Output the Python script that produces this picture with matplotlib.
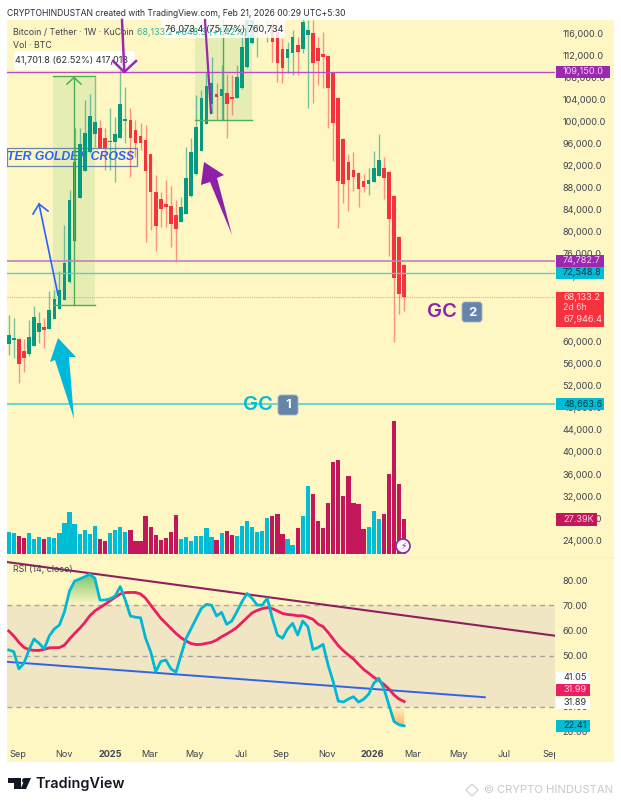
import matplotlib
matplotlib.use("Agg")
import matplotlib.pyplot as plt
import numpy as np
from matplotlib.patches import Circle, FancyBboxPatch, Polygon, Rectangle
from matplotlib.transforms import Bbox, IdentityTransform, TransformedBbox

plt.rcParams["font.family"] = ["Inter", "DejaVu Sans"]

# weekly candles, BTC/USDT
opens = [59643, 60425, 60606, 58370, 57825, 59279, 61824, 62733, 62369, 64188,
         66006, 67642, 70914, 78368, 86186, 91094, 94548, 97821, 98912, 97093,
         96275, 96366, 97093, 100184, 100366, 98548, 97457, 96730, 94185, 87276,
         86004, 85095, 84731, 83095, 81822, 83277, 86549, 90549, 94730, 99639,
         103275, 105093, 104729, 105275, 104547, 104366, 106184, 110001, 114365, 119300,
         119000, 118800, 117819, 116364, 113274, 111638, 112547, 114001, 113274, 115819,
         116183, 113456, 112365, 112001, 108911, 104366, 96912, 92730, 91276, 90731,
         89276, 88731, 89094, 90185, 91640, 90913, 86549, 79097, 73955]
highs = [64915, 64369, 60734, 60552, 64006, 66551, 65460, 64369, 69278, 69460,
         72914, 81277, 87640, 98912, 98912, 104002, 105093, 108183, 100366, 98912,
         102548, 100911, 109456, 106365, 102548, 100366, 99821, 99457, 94094, 90367,
         87276, 89458, 88367, 85822, 86367, 95457, 97093, 104911, 105820, 109092,
         111819, 107093, 110365, 108729, 108547, 110365, 116183, 122000, 123000, 123200,
         122000, 123000, 119800, 118546, 115274, 114546, 116728, 115455, 118728, 118546,
         118546, 115455, 116364, 112183, 109092, 104456, 97003, 94185, 94548, 90821,
         90549, 91640, 94730, 97821, 93639, 91003, 86640, 79188, 74100]
lows = [57643, 57098, 52553, 54552, 57461, 59188, 59825, 58916, 62278, 64097,
        65915, 67551, 70800, 78300, 86100, 91000, 94450, 95457, 95185, 91276,
        91276, 89094, 97003, 96185, 90003, 93639, 94912, 78186, 80368, 76550,
        80913, 80913, 77277, 74550, 81732, 83186, 86450, 90450, 94640, 99550,
        101638, 100366, 100366, 97003, 101275, 104275, 106090, 109900, 114270, 111900,
        118700, 114546, 110910, 107274, 107093, 108911, 108547, 108547, 112547, 102548,
        103457, 106729, 106184, 98912, 92912, 80732, 85277, 83822, 87458, 84549,
        87276, 86731, 89004, 90095, 86004, 75641, 60006, 65097, 65642]
closes = [61279, 60643, 56007, 57098, 60970, 64551, 63461, 62188, 65824, 67824,
          69460, 74369, 85822, 92730, 96003, 98003, 101093, 100002, 95276, 95276,
          96548, 97821, 103275, 100548, 97093, 96185, 96185, 91094, 87276, 81095,
          84186, 84549, 81459, 80550, 84549, 89822, 94548, 99093, 104366, 106547,
          107093, 104547, 106002, 103275, 104184, 108183, 113637, 118700, 119455, 121000,
          120000, 122000, 114546, 110729, 109820, 113274, 115455, 112728, 118182, 116728,
          110729, 111092, 111819, 106184, 99821, 89276, 88731, 89458, 90003, 87822,
          88185, 89458, 91640, 93094, 89822, 82368, 71642, 68733, 68133]
volumes = [17.7, 16.4, 14.6, 13.1, 16.4, 12.3, 13.6, 12.3, 13.8, 12.8,
           17.0, 24.8, 32.9, 23.5, 15.9, 19.1, 16.2, 22.4, 12.0, 10.4,
           16.7, 19.3, 21.4, 17.7, 19.1, 10.4, 10.7, 29.8, 21.4, 15.4,
           11.5, 12.5, 17.5, 30.8, 11.7, 13.3, 10.7, 14.4, 14.1, 20.6,
           13.3, 11.0, 16.4, 18.0, 15.1, 14.1, 22.4, 26.4, 21.4, 17.5,
           18.5, 28.4, 30.0, 31.6, 15.7, 11.7, 7.6, 20.4, 30.0, 53.5,
           47.2, 26.4, 20.4, 39.9, 72.0, 74.1, 45.7, 61.1, 39.9, 39.2,
           19.8, 21.1, 33.9, 27.4, 31.6, 62.6, 104.4, 55.1, 27.39]
rsi = [52.4, 51.7, 44.9, 47.1, 52.4, 56.7, 55.0, 52.8, 57.9, 60.7,
       62.2, 67.5, 75.7, 79.6, 80.4, 81.3, 82.4, 80.7, 72.1, 72.1,
       72.6, 73.7, 77.4, 72.1, 65.8, 65.3, 65.1, 57.0, 51.7, 43.8,
       47.8, 48.4, 44.9, 43.6, 50.4, 57.0, 60.9, 64.9, 68.8, 70.4,
       70.1, 65.8, 67.2, 62.5, 63.8, 67.5, 71.4, 74.7, 72.8, 70.1,
       70.1, 72.8, 64.9, 58.3, 57.0, 60.7, 62.9, 58.3, 63.8, 61.6,
       52.6, 53.3, 54.6, 46.4, 39.9, 32.2, 31.8, 33.0, 33.9, 31.8,
       32.9, 34.9, 39.2, 41.2, 37.2, 30.6, 24.1, 22.8, 22.41]
rsi_ma = [59.9, 57.9, 55.4, 53.4, 52.5, 52.2, 52.2, 52.6, 53.2, 53.3,
          53.3, 54.3, 56.7, 58.9, 60.9, 63.2, 65.9, 67.8, 69.1, 70.4,
          71.8, 73.2, 74.5, 75.0, 75.1, 75.1, 74.5, 72.8, 70.1, 67.5,
          64.9, 62.9, 60.9, 58.9, 57.2, 55.9, 54.9, 54.5, 54.6, 55.0,
          55.4, 56.3, 57.6, 58.7, 59.9, 61.3, 63.2, 65.1, 67.0, 68.0,
          68.7, 69.1, 68.7, 67.8, 66.8, 66.4, 66.2, 65.9, 65.9, 65.3,
          64.5, 62.6, 61.6, 59.3, 56.7, 54.1, 52.1, 50.4, 48.8, 46.7,
          44.7, 43.2, 41.6, 40.3, 38.8, 37.0, 34.6, 33.0, 31.99]

date_ticks = [1.83, 10.9, 20.0, 27.9, 36.7, 45.8, 53.7, 62.8, 71.8, 79.7, 88.8, 97.7, 107.0]
date_labels = ["Sep", "Nov", "2025", "Mar", "May", "Jul", "Sep", "Nov", "2026", "Mar", "May", "Jul", "Sep"]
price_ticks = list(range(24000, 116001, 4000))
rsi_ticks = [20, 30, 40, 50, 60, 70, 80]

# drawn levels and measure boxes
purple_top = 109150.0
purple_low = 74782.7
teal_level = 72548.8
cyan_level = 48663.6
last_price = 68133.2
measure_left = (8.8, 17.0, 66664, 108365)
measure_right = (36.7, 48.0, 100366, 176439)
rsi_upper_trend = ([-0.335, 107.75], [87.1, 58.0])
rsi_lower_trend = ([-0.335, 93.9], [47.7, 33.7])

W, H = 621, 806
BG = "#FEF7C3"
GREEN = "#089981"
RED = "#F7323F"
VOL_BLUE = "#00BCD4"
VOL_RED = "#C2185B"
PURPLE = "#9C27B0"
TEXT = "#3f4350"
XLIM = (-0.335, 107.75)
SCALE_SIZE = 6.6


def pixel_rect(left, top, right, bottom):
    return [left / W, 1 - bottom / H, (right - left) / W, (bottom - top) / H]


def pixel_axes(fig, zorder):
    ax = fig.add_axes([0, 0, 1, 1], zorder=zorder)
    ax.set_xlim(0, W)
    ax.set_ylim(H, 0)
    ax.axis("off")
    ax.patch.set_alpha(0)
    return ax


def value_to_px(ax, value):
    return H - ax.transData.transform((0, value))[1]


def scale_label(ax, text, top, bottom, right, bg, fg, left=556):
    ax.add_patch(Rectangle((left, top), right - left, bottom - top, fc=bg, ec="none", zorder=5))
    ax.text(563, (top + bottom) / 2, text, color=fg, fontsize=SCALE_SIZE, va="center", ha="left", zorder=6)


def badge(ax, x, y, label):
    ax.add_patch(FancyBboxPatch((x + 2, y + 2), 16, 16, boxstyle="round,pad=2,rounding_size=3",
                                fc="#6585A8", ec="#9FB4CA", lw=0.6, zorder=6))
    ax.text(x + 10, y + 10.5, label, color="white", fontsize=9.5, fontweight="bold",
            ha="center", va="center", zorder=7)


def gradient_fill(ax, xs, low, high, rgb, strong_at_top):
    poly = ax.fill_between(xs, low, high, color="none", lw=0)
    alpha = np.linspace(0.75, 0.0, 64) if strong_at_top else np.linspace(0.0, 0.75, 64)
    image = np.zeros((64, 1, 4))
    image[:, :, :3] = rgb
    image[:, 0, 3] = alpha
    ymin, ymax = np.min(low), np.max(high)
    artist = ax.imshow(image, extent=(xs[0], xs[-1], ymin, ymax), aspect="auto", origin="upper", zorder=2)
    artist.set_clip_path(poly.get_paths()[0], ax.transData)


fig = plt.figure(figsize=(W / 100, H / 100), dpi=100, facecolor="white")
back = pixel_axes(fig, 0)
back.add_patch(Rectangle((7, 20), 607, 742, fc=BG, ec="none"))
back.plot([7, 614], [556.5, 556.5], color="#F1EFE0", lw=0.8)

ax_price = fig.add_axes(pixel_rect(7, 20, 555, 556), zorder=2)
ax_vol = fig.add_axes(pixel_rect(7, 20, 555, 556), zorder=1)
ax_rsi = fig.add_axes(pixel_rect(7, 557, 555, 738), zorder=2)
top = pixel_axes(fig, 5)

weeks = np.arange(len(closes))
opens_arr, closes_arr = np.array(opens), np.array(closes)
rising = closes_arr >= opens_arr

# volume sits under the candles on its own scale
ax_vol.set_xlim(*XLIM)
ax_vol.set_ylim(-1.33, 418.4)
ax_vol.axis("off")
ax_vol.bar(weeks, volumes, width=0.84, color=[VOL_BLUE if up else VOL_RED for up in rising], lw=0)

ax_price.patch.set_alpha(0)
ax_price.set_xlim(*XLIM)
ax_price.set_ylim(21091, 118545)
ax_price.yaxis.tick_right()
ax_price.set_yticks(price_ticks)
ax_price.set_yticklabels([f"{p:,.1f}" for p in price_ticks])
ax_price.tick_params(axis="y", length=0, pad=5.5, labelsize=SCALE_SIZE, labelcolor=TEXT)
ax_price.set_xticks([])
for spine in ax_price.spines.values():
    spine.set_visible(False)

for box, edge in ((measure_left, "#4CAF50"), (measure_right, "#4CAF50")):
    x0, x1, y0, y1 = box
    ax_price.add_patch(Rectangle((x0, y0), x1 - x0, y1 - y0, fc="#4CAF50", alpha=0.13, ec="none", zorder=1))
    ax_price.plot([x0, x1], [y0, y0], color=edge, lw=1.0, zorder=4)
    ax_price.plot([x0, x1], [y1, y1], color=edge, lw=1.0, zorder=4)
    ax_price.plot([(x0 + x1) / 2] * 2, [y0, y1], color=edge, lw=1.0, zorder=4)

ax_price.text(-0.335, 93640, "TER GOLDEN CROSS", color="#2962FF", family="Liberation Sans",
              fontsize=8.8, fontweight="bold", fontstyle="italic", va="center", zorder=1.5, clip_on=True)
ax_price.add_patch(Rectangle((-0.335, 92000), 25.6, 3275, fc="none", ec="#6C86B0", lw=0.9, zorder=1.5))

ax_price.vlines(weeks[rising], np.array(lows)[rising], np.array(highs)[rising], color=GREEN, alpha=0.55, lw=1.0, zorder=2)
ax_price.vlines(weeks[~rising], np.array(lows)[~rising], np.array(highs)[~rising], color=RED, alpha=0.5, lw=1.0, zorder=2)
body_low = np.minimum(opens_arr, closes_arr)
body_size = np.abs(closes_arr - opens_arr)
ax_price.bar(weeks, body_size, bottom=body_low, width=0.72,
             color=[GREEN if up else RED for up in rising], lw=0, zorder=3)

ax_price.axhline(purple_top, color="#B64CC6", lw=1.0, zorder=4)
ax_price.axhline(purple_low, color="#C183B8", lw=1.2, zorder=4)
ax_price.axhline(teal_level, color="#5CCFC2", lw=1.0, zorder=4)
ax_price.axhline(cyan_level, color="#45CDD6", lw=1.1, zorder=4)
ax_price.axhline(last_price, color="#F7A08E", lw=0.8, ls=(0, (1, 1)), zorder=1.2)

# rsi pane
ax_rsi.patch.set_alpha(0)
ax_rsi.set_xlim(*XLIM)
ax_rsi.set_ylim(17.6, 89.1)
ax_rsi.axhspan(30, 70, color="#F1E6C4", lw=0, zorder=1)
for level in (30, 50, 70):
    ax_rsi.axhline(level, color="#A8A49A", lw=1.0, ls=(0, (3.5, 3)), zorder=1.5)
rsi_arr = np.array(rsi)
over = weeks[(weeks >= 11) & (weeks <= 18)]
gradient_fill(ax_rsi, over, np.full(len(over), 70.0), np.maximum(rsi_arr[over], 70), (0.30, 0.69, 0.31), True)
under = weeks[weeks >= 75]
gradient_fill(ax_rsi, under, np.minimum(rsi_arr[under], 30), np.full(len(under), 30.0), (1.0, 0.6, 0.3), False)
ax_rsi.set_xlim(*XLIM)
ax_rsi.set_ylim(17.6, 89.1)
ax_rsi.plot(*rsi_upper_trend, color="#8E1F5E", lw=1.5, zorder=3)
ax_rsi.plot(*rsi_lower_trend, color="#2F63E8", lw=1.4, zorder=3)
ax_rsi.plot(weeks, rsi_ma, color="#EC1E5F", lw=2.0, zorder=4)
ax_rsi.plot(weeks, rsi, color="#00B8D4", lw=2.0, zorder=5)
ax_rsi.yaxis.tick_right()
ax_rsi.set_yticks(rsi_ticks)
ax_rsi.set_yticklabels([f"{r:.2f}" for r in rsi_ticks])
ax_rsi.set_xticks(date_ticks)
ax_rsi.set_xticklabels(date_labels)
ax_rsi.tick_params(axis="y", length=0, pad=5.5, labelsize=SCALE_SIZE, labelcolor=TEXT)
ax_rsi.tick_params(axis="x", length=0, pad=8.5, labelsize=SCALE_SIZE, labelcolor=TEXT)
scale_clip = TransformedBbox(Bbox([[0, 0], [555, H]]), IdentityTransform())
for label in ax_rsi.get_xticklabels():
    if label.get_text().startswith("20"):
        label.set_fontweight("bold")
    label.set_clip_box(scale_clip)
    label.set_clip_on(True)
for spine in ax_rsi.spines.values():
    spine.set_visible(False)

# labels on the price scale
y_top = value_to_px(ax_price, purple_top)
scale_label(top, "109,150.0", y_top - 6, y_top + 6, 610, "#9C27B0", "#F0D4F5")
y_low = value_to_px(ax_price, purple_low)
scale_label(top, "74,782.7", y_low - 6, y_low + 6, 604, "#9C27B0", "#F0D4F5")
y_teal = value_to_px(ax_price, teal_level)
scale_label(top, "72,548.8", y_teal - 6, y_teal + 6, 604, "#00BCD4", "#0B3A45")
y_cyan = value_to_px(ax_price, cyan_level)
scale_label(top, "48,663.6", y_cyan - 6, y_cyan + 6, 604, "#00BCD4", "#0B3A45")
top.add_patch(Rectangle((556, 292), 48, 35, fc="#F7323F", ec="none", zorder=5))
top.text(563, 298, "68,133.2", color="#FFE3E3", fontsize=SCALE_SIZE, va="center", zorder=6)
top.text(563, 307.5, "2d 6h", color="#FFD0D0", fontsize=6.3, va="center", zorder=6)
top.text(563, 320, "67,946.4", color="#FFE3E3", fontsize=SCALE_SIZE, va="center", zorder=6)
scale_label(top, "27.39K", 513, 526, 597, "#C2185B", "#FBD5E3")
scale_label(top, "41.05", 672, 683.5, 590, "white", "#30333C")
scale_label(top, "31.99", 684, 696, 590, "#E91E63", "#FCD8E4")
scale_label(top, "31.89", 697, 708.5, 590, "white", "#30333C")
scale_label(top, "22.41", 720, 732, 590, "#00BCD4", "#0B3A45")

# header and legend text
top.text(7, 13, "CRYPTOHINDUSTAN created with TradingView.com, Feb 21, 2026 00:29 UTC+5:30",
         color="#2B2E38", fontsize=6.2, va="center")
top.text(13, 32.5, "Bitcoin / Tether · 1W · KuCoin", color=TEXT, fontsize=6.3, va="center")
top.text(137, 32.5, "68,133.2 +848.3 (+1.42%)", color="#2FB59B", fontsize=6.4, va="center")
top.text(13, 45, "Vol · BTC", color=TEXT, fontsize=6.3, va="center")
top.text(13, 569, "RSI (14, close)", color=TEXT, fontsize=6.4, va="center")

top.add_patch(FancyBboxPatch((16, 53), 117, 15, boxstyle="round,pad=2,rounding_size=3", fc="white", ec="none", alpha=0.92, zorder=2))
top.text(15, 60.5, "41,701.8 (62.52%) 417,018", color="#2B2E38", fontsize=6.6, va="center", zorder=3)
top.add_patch(FancyBboxPatch((163, 21), 120, 15, boxstyle="round,pad=2,rounding_size=3", fc="white", ec="none", alpha=0.85, zorder=2))
top.text(165, 29, "76,073.4 (75.77%) 760,734", color="#2B2E38", fontsize=6.6, va="center", zorder=3)

# hand drawn arrows
top.plot([122, 124.3], [20, 71], color=PURPLE, lw=1.8, zorder=4)
top.plot([113, 124.3, 136], [61, 72, 61], color=PURPLE, lw=1.8, zorder=4)
top.plot([205, 211], [20, 113], color=PURPLE, lw=1.6, zorder=4)
top.add_patch(Polygon([(204, 162), (224, 175), (217, 178), (232, 235), (210, 182), (201, 185)],
                      fc="#8E20A8", ec="none", zorder=4))
top.add_patch(Polygon([(58, 338), (76, 357), (69, 357), (74, 419), (55, 360), (50, 362)],
                      fc="#00B8D9", ec="none", zorder=4))
top.plot([58, 39], [295, 204], color="#2962FF", lw=1.2, zorder=4)
top.plot([33, 39, 48], [214, 204, 211], color="#2962FF", lw=1.2, zorder=4)
top.plot([67, 74, 81], [84, 77.5, 84], color="#4CAF50", lw=1.1, zorder=4)

# GC notes
top.text(243, 405, "GC", color="#00BCD4", fontsize=14.5, fontweight="semibold", va="center", zorder=6)
badge(top, 278, 395, "1")
top.text(427, 312, "GC", color="#8E24AA", fontsize=14.5, fontweight="semibold", va="center", zorder=6)
badge(top, 462, 302, "2")
top.add_patch(Circle((403, 546), 7, fc="white", ec="#8E24AA", lw=1.2, zorder=6))
top.text(403, 546, "\u26a1", color="#8E24AA", family="DejaVu Sans", fontsize=6.5, ha="center", va="center", zorder=7)

# footer
top.add_patch(Polygon([(8, 778), (21, 778), (21, 789), (14, 789), (14, 783), (8, 783)], fc="#131722", ec="none"))
top.add_patch(Circle((24.5, 780.5), 2.4, fc="#131722", ec="none"))
top.add_patch(Polygon([(31, 778), (26, 789), (20.5, 789), (25.5, 778)], fc="#131722", ec="none"))
top.text(35.5, 784, "TradingView", color="#131722", fontsize=10.4, fontweight="semibold", va="center")
top.text(497, 790, "CRYPTO HINDUSTAN", color="#C9C9C9", fontsize=8.1, va="center")
top.text(488, 790, "©", color="#C9C9C9", fontsize=8, ha="center", va="center")
top.add_patch(Polygon([(472, 784), (478, 790), (472, 796), (466, 790)], fc="none", ec="#D6D6D6", lw=1))

fig.savefig("out.png", dpi=100, facecolor="white")
